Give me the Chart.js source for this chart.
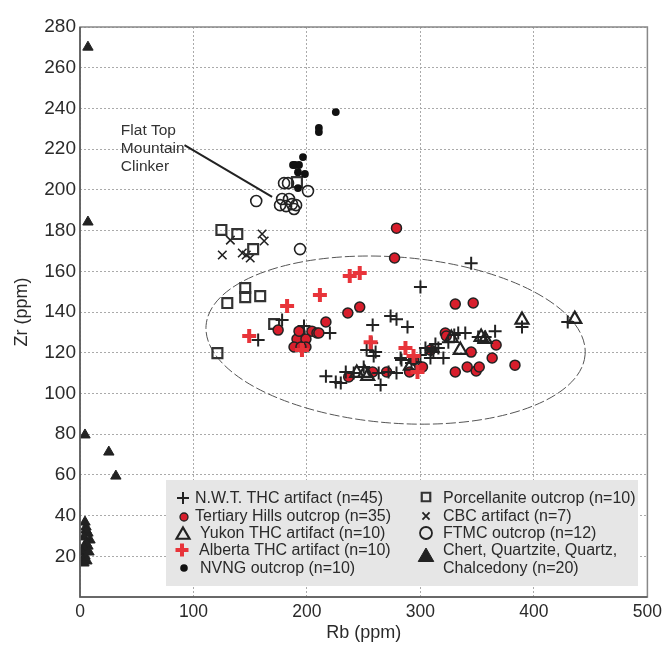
<!DOCTYPE html>
<html>
<head>
<meta charset="utf-8">
<script src="https://cdn.jsdelivr.net/npm/chart.js@4.4.1/dist/chart.umd.min.js"></script>
<style>
html,body{margin:0;padding:0;background:#fff;}
#wrap{position:relative;width:667px;height:649px;}
</style>
</head>
<body>
<div id="wrap"><canvas id="c" width="667" height="649"></canvas></div>
<script>
// ---------- data (Rb ppm, Zr ppm) ----------
const nwtRb = [344.7,300,273.7,278.9,257.9,288.6,365.8,220.2,339.5,329.8,350.9,429.8,389.5,257.0,260.5,258.8,282.5,304.4,313.2,315.8,308.8,320.2,300,216.7,225.4,229.8,234.2,250.0,264.9,278.9,292.1,241.2,263.2,178.1,157.0,197.4,283.3,357.0,333.3,311.4,295.6,324.6,252.6,271.9,309.6];
const nwtZr = [164.0,152.3,138.0,136.5,133.6,132.6,130.6,129.7,129.7,128.7,127.7,135.1,132.6,124.8,120.3,118.4,117.4,122.3,124.3,122.3,117.4,117.4,118.9,108.5,105.6,105.1,110.5,113.0,104.1,110.0,114.9,110.0,110.0,136.1,126.2,133.1,116.4,127.7,129.7,120.3,115.4,125.2,121.3,110.5,121.3];

const thRb = [278.9,277.2,236.0,246.5,216.7,174.6,193.9,204.4,208.8,191.2,199.1,188.6,199.1,236.8,257.9,270.2,290.4,301.8,308.8,321.9,322.8,330.7,346.5,344.7,366.7,363.2,383.3,330.7,341.2,349.1,351.8,194.7,210.5,293.9,193.0];
const thZr = [181.2,166.5,139.5,142.4,135.1,131.1,130.2,130.6,129.7,126.7,126.7,122.8,122.8,108.1,110.5,110.5,110.5,113.0,121.3,129.7,128.2,143.9,144.4,120.3,123.8,117.4,113.9,110.5,113.0,111.0,113.0,122.8,129.7,116.4,130.6];

const yukRb = [389.5,436.0,327.2,335.1,353.5,357.0,291.2,243.9,250.9,253.5];
const yukZr = [136.1,136.5,127.2,121.3,127.7,126.7,113.5,110.0,110.0,108.5];

const albRb = [237.7,246.5,211.4,182.5,149.1,195.6,256.1,286.8,293.9,297.4];
const albZr = [157.7,159.1,148.3,142.9,128.2,121.3,125.2,122.3,118.4,110.5];

const nvngRb = [225.4,210.5,210.5,196.5,189.5,193.0,192.1,198.2,192.1,187.7];
const nvngZr = [238.2,230.4,228.4,216.1,212.2,212.2,208.7,207.8,200.9,212.2];

const porRb = [124.6,138.6,152.6,191.2,129.8,145.6,145.6,158.8,121.1,171.1];
const porZr = [180.3,178.3,170.9,203.8,144.4,151.8,147.3,147.8,119.8,134.1];

const cbcRb = [125.4,132.5,143.0,150.0,160.5,162.3,146.5];
const cbcZr = [168.0,175.3,169.0,166.5,178.3,174.9,168.0];

const ftmcRb = [155.3,179.8,183.3,200.9,176.3,178.1,184.2,181.6,186.8,190.4,188.6,193.9];
const ftmcZr = [194.5,203.3,203.3,199.4,192.5,195.5,195.5,192.0,193.0,192.5,190.6,170.9];

const chertRb = [7.0,7.0,4.4,25.4,31.6,4.4,5.3,7.0,5.3,8.8,3.5,5.3,7.0,3.5,1.8,4.4,2.6,6.1,3.5,7.9];
const chertZr = [270.1,184.2,79.6,71.2,59.4,36.8,34.4,31.4,32.9,28.0,29.5,26.5,25.0,24.1,22.1,20.1,18.2,17.7,16.7,22.1];

const xTicks = [0,100,200,300,400,500];
const yTicks = [20,40,60,80,100,120,140,160,180,200,220,240,260,280];

const labels = {
  nwt: 'N.W.T. THC artifact (n=45)',
  th: 'Tertiary Hills outcrop (n=35)',
  yuk: 'Yukon THC artifact (n=10)',
  alb: 'Alberta THC artifact (n=10)',
  nvng: 'NVNG outcrop (n=10)',
  por: 'Porcellanite outcrop (n=10)',
  cbc: 'CBC artifact (n=7)',
  ftmc: 'FTMC outcrop (n=12)',
  chert1: 'Chert, Quartzite, Quartz,',
  chert2: 'Chalcedony (n=20)'
};

// ellipse enclosing THC group (data units)
const ellipseCenter = [278.1, 126.2];
const ellipseRadii = [167.5, 40.8];
const ellipseTiltDeg = 4.4;

// annotation
const noteLines = ['Flat Top', 'Mountain', 'Clinker'];
const noteAnchor = [36, 233.5];      // Rb, Zr of text top-left
const noteLeader = [[92.1, 222.0], [169.3, 196.5]];

function pts(xs, ys){ return xs.map((v,i)=>({x:v, y:ys[i]})); }

const DARK = '#222';
const RED = '#d81e2c';
const RED2 = '#e8343a';
const FONT = "'Liberation Sans', Arial, Helvetica, sans-serif";

const datasets = [
  {label:labels.alb, data:pts(albRb,albZr), pointStyle:'cross', pointRadius:7, borderWidth:4, borderColor:RED2, backgroundColor:RED2, order:1},
  {label:labels.yuk, data:pts(yukRb,yukZr), pointStyle:'triangle', pointRadius:7.5, borderWidth:2.2, borderColor:DARK, backgroundColor:'rgba(0,0,0,0)', order:2},
  {label:labels.nwt, data:pts(nwtRb,nwtZr), pointStyle:'cross', pointRadius:6.5, borderWidth:2, borderColor:DARK, backgroundColor:DARK, order:3},
  {label:labels.th, data:pts(thRb,thZr), pointStyle:'circle', pointRadius:5, borderWidth:1.5, borderColor:DARK, backgroundColor:RED, order:4},
  {label:labels.nvng, data:pts(nvngRb,nvngZr), pointStyle:'circle', pointRadius:3.9, borderWidth:0, borderColor:'#111', backgroundColor:'#111', order:5},
  {label:labels.ftmc, data:pts(ftmcRb,ftmcZr), pointStyle:'circle', pointRadius:5.5, borderWidth:1.6, borderColor:DARK, backgroundColor:'rgba(0,0,0,0)', order:6},
  {label:labels.por, data:pts(porRb,porZr), pointStyle:'rect', pointRadius:7, borderWidth:2.2, borderColor:'#333', backgroundColor:'rgba(0,0,0,0)', order:7},
  {label:labels.cbc, data:pts(cbcRb,cbcZr), pointStyle:'crossRot', pointRadius:6, borderWidth:1.6, borderColor:DARK, backgroundColor:DARK, order:8},
  {label:labels.chert1+' '+labels.chert2, data:pts(chertRb,chertZr), pointStyle:'triangle', pointRadius:6, borderWidth:1, borderColor:DARK, backgroundColor:DARK, order:9}
];

function marker(ctx, style, x, y, r, opt){
  ctx.save();
  ctx.lineWidth = opt.lw || 1;
  ctx.strokeStyle = opt.stroke || DARK;
  ctx.fillStyle = opt.fill || 'rgba(0,0,0,0)';
  ctx.beginPath();
  if(style==='cross'){
    ctx.moveTo(x-r,y); ctx.lineTo(x+r,y); ctx.moveTo(x,y-r); ctx.lineTo(x,y+r); ctx.stroke();
  } else if(style==='crossRot'){
    const d=r*0.7071;
    ctx.moveTo(x-d,y-d); ctx.lineTo(x+d,y+d); ctx.moveTo(x+d,y-d); ctx.lineTo(x-d,y+d); ctx.stroke();
  } else if(style==='circle'){
    ctx.arc(x,y,r,0,Math.PI*2); if(opt.fill) ctx.fill(); if(opt.lw) ctx.stroke();
  } else if(style==='rect'){
    const s=r*0.7071; ctx.rect(x-s,y-s,2*s,2*s); if(opt.fill) ctx.fill(); if(opt.lw) ctx.stroke();
  } else if(style==='triangle'){
    ctx.moveTo(x, y-r); ctx.lineTo(x+r*0.866, y+r*0.5); ctx.lineTo(x-r*0.866, y+r*0.5); ctx.closePath();
    if(opt.fill) ctx.fill(); if(opt.lw) ctx.stroke();
  }
  ctx.restore();
}

const decor = {
  id:'decor',
  beforeDatasetsDraw(chart){
    const {ctx, scales:{x,y}} = chart;
    const cx = x.getPixelForValue(ellipseCenter[0]);
    const cy = y.getPixelForValue(ellipseCenter[1]);
    const rx = x.getPixelForValue(ellipseCenter[0]+ellipseRadii[0]) - cx;
    const ry = cy - y.getPixelForValue(ellipseCenter[1]+ellipseRadii[1]);
    ctx.save();
    ctx.strokeStyle = '#555';
    ctx.lineWidth = 1;
    ctx.setLineDash([10,3]);
    ctx.beginPath();
    ctx.ellipse(cx, cy, rx, ry, ellipseTiltDeg*Math.PI/180, 0, Math.PI*2);
    ctx.stroke();
    ctx.restore();
    ctx.save();
    ctx.strokeStyle = '#222';
    ctx.lineWidth = 2;
    ctx.beginPath();
    ctx.moveTo(x.getPixelForValue(noteLeader[0][0]), y.getPixelForValue(noteLeader[0][1]));
    ctx.lineTo(x.getPixelForValue(noteLeader[1][0]), y.getPixelForValue(noteLeader[1][1]));
    ctx.stroke();
    ctx.fillStyle = '#333';
    ctx.font = '15.5px ' + FONT;
    ctx.textBaseline = 'middle';
    const tx = x.getPixelForValue(noteAnchor[0]);
    const ty = y.getPixelForValue(noteAnchor[1]);
    noteLines.forEach((t,i)=>ctx.fillText(t, tx, ty + 9 + i*18));
    ctx.restore();
  },
  afterDatasetsDraw(chart){
    const {ctx, chartArea:a} = chart;
    const bx = a.left + 86, by = a.bottom - 117, bw = 472, bh = 106;
    ctx.save();
    ctx.fillStyle = '#e6e6e6';
    ctx.fillRect(bx, by, bw, bh);
    ctx.font = '16px ' + FONT;
    ctx.fillStyle = '#2a2a2a';
    ctx.textBaseline = 'middle';
    const rows = [by+19, by+37, by+54, by+71, by+89];
    const c1 = bx + 17, c2 = bx + 260;
    marker(ctx,'cross',c1,rows[0]-1,6,{lw:2,stroke:DARK});
    ctx.fillText(labels.nwt, bx+29, rows[0]);
    marker(ctx,'circle',c1+1,rows[1],4,{lw:1.3,stroke:DARK,fill:RED});
    ctx.fillText(labels.th, bx+29, rows[1]);
    marker(ctx,'triangle',c1,rows[2]+1,7.5,{lw:2.2,stroke:DARK});
    ctx.fillText(labels.yuk, bx+34, rows[2]);
    marker(ctx,'cross',c1-1,rows[3]-1,6.5,{lw:4,stroke:RED2});
    ctx.fillText(labels.alb, bx+33, rows[3]);
    marker(ctx,'circle',c1+1,rows[4]-1,3.8,{fill:'#111'});
    ctx.fillText(labels.nvng, bx+34, rows[4]);
    marker(ctx,'rect',c2,rows[0]-2,6,{lw:2.2,stroke:'#333'});
    ctx.fillText(labels.por, bx+277, rows[0]);
    marker(ctx,'crossRot',c2,rows[1]-1,5,{lw:1.8,stroke:DARK});
    ctx.fillText(labels.cbc, bx+277, rows[1]);
    marker(ctx,'circle',c2,rows[2]-1,6,{lw:1.8,stroke:DARK});
    ctx.fillText(labels.ftmc, bx+277, rows[2]);
    marker(ctx,'triangle',c2,rows[3]+6,9,{lw:1,stroke:DARK,fill:DARK});
    ctx.fillText(labels.chert1, bx+277, rows[3]);
    ctx.fillText(labels.chert2, bx+277, rows[4]);
    ctx.restore();
  },
  afterDraw(chart){
    const {ctx, chartArea:a} = chart;
    ctx.save();
    ctx.strokeStyle = '#888';
    ctx.lineWidth = 1.5;
    ctx.strokeRect(a.left, a.top, a.right-a.left, a.bottom-a.top);
    ctx.strokeStyle = '#555';
    ctx.beginPath();
    ctx.moveTo(a.left, a.top); ctx.lineTo(a.left, a.bottom); ctx.lineTo(a.right, a.bottom);
    ctx.stroke();
    ctx.restore();
  }
};

new Chart(document.getElementById('c'), {
  type:'scatter',
  data:{datasets},
  plugins:[decor],
  options:{
    responsive:false,
    animation:false,
    events:[],
    layout:{padding:{top:27,right:17,bottom:0,left:0}},
    plugins:{legend:{display:false}, tooltip:{enabled:false}},
    scales:{
      x:{
        type:'linear', min:0, max:500,
        afterBuildTicks(s){ s.ticks = xTicks.map(v=>({value:v})); },
        afterFit(s){ s.height = 52; },
        ticks:{color:'#2a2a2a', padding:5, font:{size:17.5, family:FONT}},
        grid:{color:'#aaa', lineWidth:1, drawTicks:false},
        border:{display:false, dash:[2,2]},
        title:{display:true, text:'Rb (ppm)', color:'#2a2a2a', font:{size:18, family:FONT}, padding:{top:0,bottom:5}}
      },
      y:{
        type:'linear', min:0, max:280,
        afterBuildTicks(s){ s.ticks = yTicks.map(v=>({value:v})); },
        afterFit(s){ s.width = 80; },
        ticks:{color:'#2a2a2a', padding:4, font:{size:19, family:FONT}},
        grid:{color:'#aaa', lineWidth:1, drawTicks:false},
        border:{display:false, dash:[2,2]},
        title:{display:true, text:'Zr (ppm)', color:'#2a2a2a', font:{size:18, family:FONT}, padding:{top:11,bottom:0}}
      }
    }
  }
});
</script>
</body>
</html>
